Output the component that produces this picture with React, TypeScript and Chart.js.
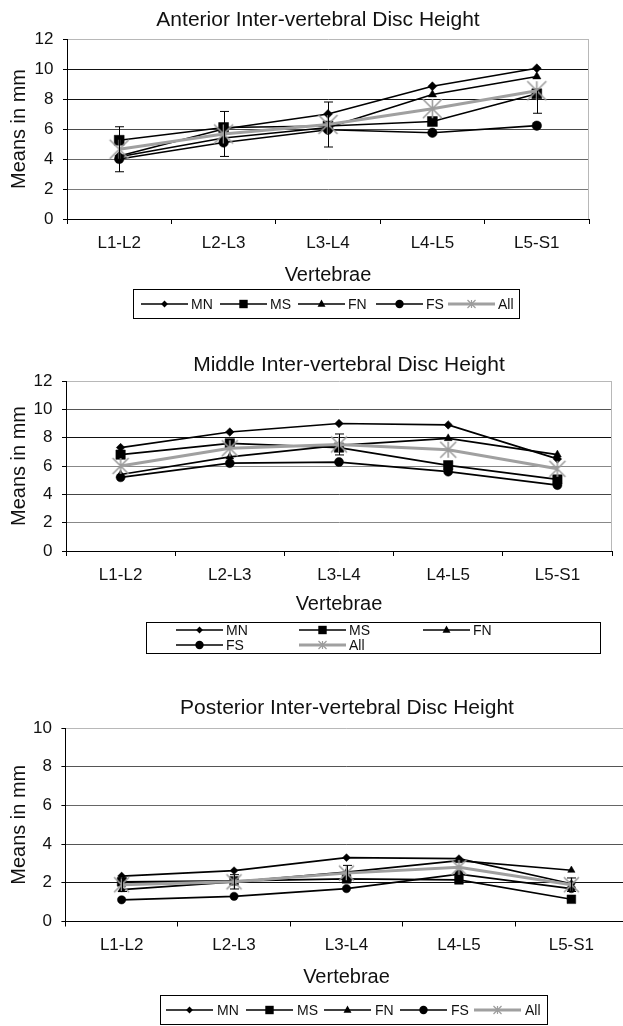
import React, { useEffect, useRef } from "react";
import { Chart, registerables } from "chart.js";

Chart.register(...registerables);

const FONT = '"Liberation Sans", Arial, Helvetica, sans-serif';
Chart.defaults.font.family = FONT;

const categories = ["L1-L2", "L2-L3", "L3-L4", "L4-L5", "L5-S1"];
const seriesLabels = ["MN", "MS", "FN", "FS", "All"];
const xAxisTitle = "Vertebrae";
const yAxisTitle = "Means in mm";

// Anterior
const anteriorTitle = "Anterior Inter-vertebral Disc Height";
const anteriorMN = [4.2, 6.0, 7.0, 8.85, 10.05];
const anteriorMS = [5.25, 6.1, 6.2, 6.5, 8.35];
const anteriorFN = [4.15, 5.4, 6.1, 8.3, 9.5];
const anteriorFS = [4.0, 5.1, 5.95, 5.75, 6.22];
const anteriorAll = [4.65, 5.67, 6.3, 7.35, 8.55];
const anteriorErrUp = [1.5, 1.5, 1.5, 0, 0];
const anteriorErrDown = [1.5, 1.5, 1.5, 0, 1.5];
const anteriorYTicks = [0, 2, 4, 6, 8, 10, 12];

// Middle
const middleTitle = "Middle Inter-vertebral Disc Height";
const middleMN = [7.3, 8.4, 9.0, 8.9, 6.5];
const middleMS = [6.8, 7.6, 7.3, 6.05, 5.05];
const middleFN = [5.4, 6.65, 7.45, 7.95, 6.8];
const middleFS = [5.2, 6.2, 6.28, 5.6, 4.65];
const middleAll = [6.0, 7.25, 7.52, 7.15, 5.8];
const middleErrUp = [0, 0, 0.74, 0, 0];
const middleErrDown = [0, 0, 0.74, 0, 0];
const middleYTicks = [0, 2, 4, 6, 8, 10, 12];

// Posterior
const posteriorTitle = "Posterior Inter-vertebral Disc Height";
const posteriorMN = [2.35, 2.63, 3.3, 3.25, 1.95];
const posteriorMS = [2.05, 2.1, 2.2, 2.15, 1.15];
const posteriorFN = [1.65, 2.05, 2.55, 3.15, 2.65];
const posteriorFS = [1.12, 1.3, 1.7, 2.45, 1.7];
const posteriorAll = [1.9, 2.05, 2.5, 2.8, 1.9];
const posteriorErrUp = [0.35, 0.37, 0.4, 0, 0.35];
const posteriorErrDown = [0.35, 0.37, 0.4, 0, 0.35];
const posteriorYTicks = [0, 2, 4, 6, 8, 10];

const STAR_COLOR = "#9c9c9c";

function makeStar(r: number) {
  const s = Math.ceil(2 * r + 4);
  const c = document.createElement("canvas");
  c.width = s;
  c.height = s;
  const ctx = c.getContext("2d")!;
  const m = s / 2;
  ctx.strokeStyle = STAR_COLOR;
  ctx.lineWidth = 1.6;
  ctx.beginPath();
  ctx.moveTo(m - r, m - r);
  ctx.lineTo(m + r, m + r);
  ctx.moveTo(m + r, m - r);
  ctx.lineTo(m - r, m + r);
  ctx.moveTo(m, m - r);
  ctx.lineTo(m, m + r);
  ctx.stroke();
  return c;
}

function drawMarker(ctx: CanvasRenderingContext2D, kind: number, x: number, y: number, s: number) {
  ctx.save();
  ctx.fillStyle = "#000";
  ctx.beginPath();
  if (kind === 0) {
    ctx.moveTo(x, y - s);
    ctx.lineTo(x + s, y);
    ctx.lineTo(x, y + s);
    ctx.lineTo(x - s, y);
    ctx.closePath();
    ctx.fill();
  } else if (kind === 1) {
    ctx.fillRect(x - s, y - s, 2 * s, 2 * s);
  } else if (kind === 2) {
    ctx.moveTo(x, y - s);
    ctx.lineTo(x + s * 0.9, y + s * 0.6);
    ctx.lineTo(x - s * 0.9, y + s * 0.6);
    ctx.closePath();
    ctx.fill();
  } else if (kind === 3) {
    ctx.arc(x, y, s, 0, Math.PI * 2);
    ctx.fill();
  } else {
    ctx.strokeStyle = STAR_COLOR;
    ctx.lineWidth = 1.2;
    ctx.moveTo(x - s, y - s);
    ctx.lineTo(x + s, y + s);
    ctx.moveTo(x + s, y - s);
    ctx.lineTo(x - s, y + s);
    ctx.moveTo(x, y - s);
    ctx.lineTo(x, y + s);
    ctx.stroke();
  }
  ctx.restore();
}

const decorPlugin = {
  id: "decor",
  afterDatasetsDraw(chart: any, _args: any, opts: any) {
    const ctx: CanvasRenderingContext2D = chart.ctx;
    const xs = chart.scales.x;
    const ys = chart.scales.y;
    ctx.save();
    ctx.strokeStyle = "#000";
    ctx.lineWidth = 1;
    const cap = 4.5;
    opts.center.forEach((v: number, i: number) => {
      const up = opts.errUp[i];
      const dn = opts.errDown[i];
      if (!up && !dn) return;
      const px = Math.round(xs.getPixelForValue(i)) + 0.5;
      const yt = ys.getPixelForValue(v + up);
      const yb = ys.getPixelForValue(v - dn);
      ctx.beginPath();
      ctx.moveTo(px, yt);
      ctx.lineTo(px, yb);
      if (up) {
        ctx.moveTo(px - cap, yt);
        ctx.lineTo(px + cap, yt);
      }
      if (dn) {
        ctx.moveTo(px - cap, yb);
        ctx.lineTo(px + cap, yb);
      }
      ctx.stroke();
    });
    ctx.restore();
  },
  afterDraw(chart: any, _args: any, opts: any) {
    const ctx: CanvasRenderingContext2D = chart.ctx;
    const area = chart.chartArea;
    ctx.save();
    // right plot border
    ctx.strokeStyle = "#b8b8b8";
    ctx.lineWidth = 1;
    ctx.beginPath();
    const rx = Math.round(area.right) - 0.5;
    ctx.moveTo(rx, area.top);
    ctx.lineTo(rx, area.bottom);
    ctx.stroke();
    // title
    ctx.fillStyle = "#111";
    ctx.font = `21px ${FONT}`;
    ctx.textAlign = "center";
    ctx.textBaseline = "middle";
    ctx.fillText(opts.title, opts.titleX, opts.titleY);
    // legend
    const lg = opts.legend;
    ctx.strokeStyle = "#000";
    ctx.lineWidth = 1;
    ctx.strokeRect(lg.box[0] + 0.5, lg.box[1] + 0.5, lg.box[2], lg.box[3]);
    ctx.font = lg.font;
    ctx.textAlign = "left";
    ctx.textBaseline = "middle";
    lg.items.forEach((it: any, i: number) => {
      const isAll = i === 4;
      ctx.strokeStyle = isAll ? "#a0a0a0" : "#000";
      ctx.lineWidth = isAll ? 3 : 1.7;
      ctx.beginPath();
      ctx.moveTo(it.x, it.y);
      ctx.lineTo(it.x + lg.lineLen, it.y);
      ctx.stroke();
      drawMarker(ctx, i, it.x + lg.lineLen / 2, it.y, lg.markerSizes[i]);
      ctx.fillStyle = "#111";
      ctx.fillText(seriesLabels[i], it.x + lg.lineLen + lg.textGap, it.y + 1);
    });
    ctx.restore();
  },
};

type PanelCfg = {
  top: number;
  width: number;
  height: number;
  plotLeft: number;
  plotRight: number;
  plotTop: number;
  plotBottom: number;
  xH: number;
  title: string;
  titleX: number;
  titleY: number;
  series: number[][];
  errUp: number[];
  errDown: number[];
  yTicks: number[];
  grid: Record<number, string>;
  ms: number;
  starR: number;
  legend: any;
};

const panels: PanelCfg[] = [
  {
    top: 0,
    width: 623,
    height: 330,
    plotLeft: 67,
    plotRight: 589,
    plotTop: 39,
    plotBottom: 219,
    xH: 68,
    title: anteriorTitle,
    titleX: 318,
    titleY: 20,
    series: [anteriorMN, anteriorMS, anteriorFN, anteriorFS, anteriorAll],
    errUp: anteriorErrUp,
    errDown: anteriorErrDown,
    yTicks: anteriorYTicks,
    grid: { 0: "#000", 2: "#7a7a7a", 4: "#666", 6: "#4a4a4a", 8: "#111", 10: "#111", 12: "#b8b8b8" },
    ms: 1,
    starR: 9.5,
    legend: {
      box: [133, 289, 386, 29],
      font: `14px ${FONT}`,
      lineLen: 47,
      textGap: 3,
      markerSizes: [3.4, 4.2, 4.4, 4.2, 4],
      items: [
        { x: 141, y: 304 },
        { x: 220, y: 304 },
        { x: 298, y: 304 },
        { x: 376, y: 304 },
        { x: 448, y: 304 },
      ],
    },
  },
  {
    top: 330,
    width: 623,
    height: 340,
    plotLeft: 66,
    plotRight: 614.7,
    plotTop: 51,
    plotBottom: 221,
    xH: 65,
    title: middleTitle,
    titleX: 349,
    titleY: 35,
    series: [middleMN, middleMS, middleFN, middleFS, middleAll],
    errUp: middleErrUp,
    errDown: middleErrDown,
    yTicks: middleYTicks,
    grid: { 0: "#000", 2: "#888", 4: "#444", 6: "#888", 8: "#111", 10: "#555", 12: "#b8b8b8" },
    ms: 0.95,
    starR: 8,
    legend: {
      box: [146, 292, 454, 31],
      font: `14px ${FONT}`,
      lineLen: 47,
      textGap: 3,
      markerSizes: [3.4, 4.2, 4.4, 4.2, 4],
      items: [
        { x: 176, y: 300 },
        { x: 299, y: 300 },
        { x: 423, y: 300 },
        { x: 176, y: 315 },
        { x: 299, y: 315 },
      ],
    },
  },
  {
    top: 670,
    width: 640,
    height: 356,
    plotLeft: 65.4,
    plotRight: 627.6,
    plotTop: 58,
    plotBottom: 251.5,
    xH: 67.5,
    title: posteriorTitle,
    titleX: 347,
    titleY: 38,
    series: [posteriorMN, posteriorMS, posteriorFN, posteriorFS, posteriorAll],
    errUp: posteriorErrUp,
    errDown: posteriorErrDown,
    yTicks: posteriorYTicks,
    grid: { 0: "#000", 2: "#111", 4: "#555", 6: "#666", 8: "#555", 10: "#b8b8b8" },
    ms: 0.88,
    starR: 7.5,
    legend: {
      box: [160, 325, 387, 29],
      font: `14px ${FONT}`,
      lineLen: 47,
      textGap: 4,
      markerSizes: [3.4, 4.2, 4.4, 4.2, 4],
      items: [
        { x: 166, y: 340 },
        { x: 246, y: 340 },
        { x: 324, y: 340 },
        { x: 400, y: 340 },
        { x: 474, y: 340 },
      ],
    },
  },
];

function buildConfig(p: PanelCfg): any {
  const star = makeStar(p.starR);
  const styles: any[] = ["rectRot", "rect", "triangle", "circle"];
  const radii = [4.5, 7, 4.8, 4.75].map((r) => r * p.ms);
  const datasets = p.series.map((data, i) =>
    i < 4
      ? {
          label: seriesLabels[i],
          data,
          borderColor: "#000",
          backgroundColor: "#000",
          borderWidth: 1.7,
          pointStyle: styles[i],
          pointRadius: radii[i],
          pointBorderWidth: 0.5,
          pointBorderColor: "#000",
          pointBackgroundColor: "#000",
          tension: 0,
          order: 5 - i,
        }
      : {
          label: seriesLabels[i],
          data,
          borderColor: "#a0a0a0",
          backgroundColor: "#a0a0a0",
          borderWidth: 3,
          pointStyle: star,
          pointRadius: p.starR,
          tension: 0,
          order: 1,
        }
  );
  const yMin = p.yTicks[0];
  const yMax = p.yTicks[p.yTicks.length - 1];
  return {
    type: "line",
    data: { labels: categories, datasets },
    options: {
      responsive: false,
      animation: false,
      devicePixelRatio: 1,
      events: [],
      layout: {
        padding: {
          left: 0,
          right: p.width - p.plotRight,
          top: p.plotTop,
          bottom: p.height - p.plotBottom - p.xH,
        },
      },
      plugins: {
        legend: { display: false },
        tooltip: { enabled: false },
        title: { display: false },
        decor: {
          title: p.title,
          titleX: p.titleX,
          titleY: p.titleY,
          center: p.series[4],
          errUp: p.errUp,
          errDown: p.errDown,
          legend: p.legend,
        },
      },
      scales: {
        x: {
          type: "category",
          offset: true,
          grid: {
            display: true,
            drawOnChartArea: false,
            drawTicks: true,
            tickLength: 5,
            tickColor: "#000",
            color: "#000",
            offset: true,
          },
          border: { color: "#000", width: 1 },
          ticks: { padding: 9, color: "#111", font: { size: 17 }, maxRotation: 0 },
          title: {
            display: true,
            text: xAxisTitle,
            color: "#111",
            font: { size: 20 },
            padding: { top: 0, bottom: 0 },
          },
          afterFit: (s: any) => {
            s.height = p.xH;
          },
        },
        y: {
          min: yMin,
          max: yMax,
          afterBuildTicks: (s: any) => {
            s.ticks = p.yTicks.map((v) => ({ value: v }));
          },
          grid: {
            color: (c: any) => (c.tick && p.grid[c.tick.value]) || "#444",
            tickColor: "#000",
            tickLength: 4,
            lineWidth: 1,
          },
          border: { color: "#000", width: 1 },
          ticks: { padding: 9.5, color: "#111", font: { size: 17 } },
          title: {
            display: true,
            text: yAxisTitle,
            color: "#111",
            font: { size: 20 },
            padding: { top: 7, bottom: 0 },
          },
          afterFit: (s: any) => {
            s.width = p.plotLeft;
          },
        },
      },
    },
    plugins: [decorPlugin],
  };
}

function Panel({ cfg }: { cfg: PanelCfg }) {
  const ref = useRef<HTMLCanvasElement>(null);
  useEffect(() => {
    const chart = new Chart(ref.current!, buildConfig(cfg));
    return () => chart.destroy();
  }, [cfg]);
  return (
    <canvas
      ref={ref}
      width={cfg.width}
      height={cfg.height}
      style={{
        position: "absolute",
        left: 0,
        top: cfg.top,
        width: cfg.width,
        height: cfg.height,
      }}
    />
  );
}

export default function App() {
  return (
    <div
      style={{
        position: "absolute",
        left: 0,
        top: 0,
        width: 623,
        height: 1026,
        overflow: "hidden",
        background: "#fff",
      }}
    >
      {panels.map((p, i) => (
        <Panel key={i} cfg={p} />
      ))}
    </div>
  );
}
